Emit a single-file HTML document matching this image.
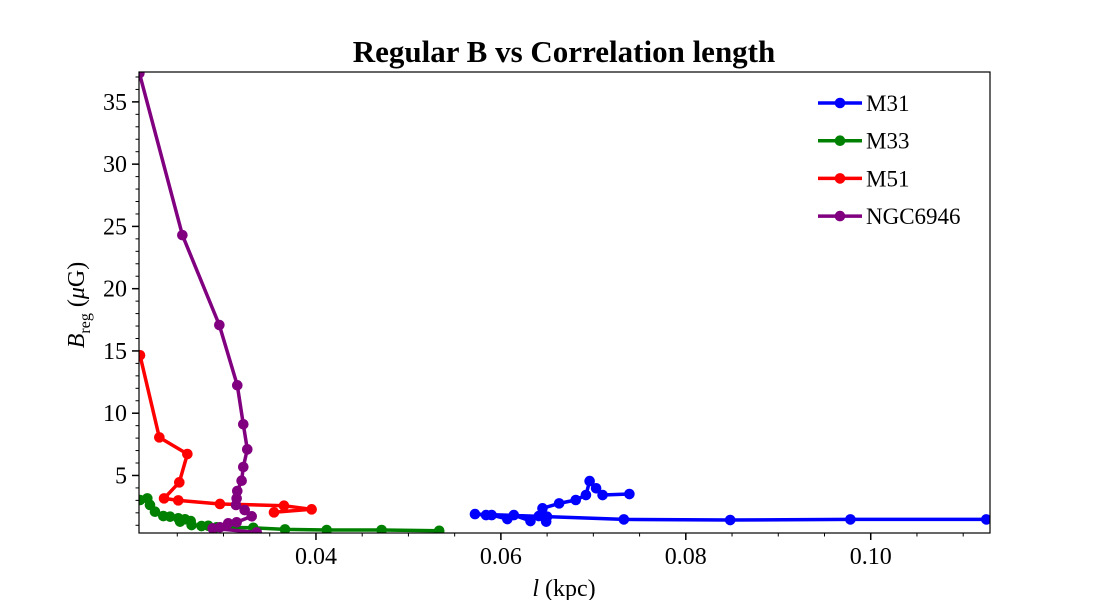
<!DOCTYPE html>
<html><head><meta charset="utf-8">
<style>
html,body{margin:0;padding:0;background:#fff;}
svg{display:block;font-family:"Liberation Serif",serif;}
</style></head>
<body>
<svg id="chart" width="1100" height="600">
<text x="564" y="62" text-anchor="middle" font-size="31" font-weight="bold">Regular B vs Correlation length</text>
<g id="plot"></g>
<text x="564" y="596" text-anchor="middle" font-size="24"><tspan font-style="italic">l</tspan> (kpc)</text>
<text transform="translate(84,305) rotate(-90)" text-anchor="middle" font-size="24"><tspan font-style="italic">B</tspan><tspan font-size="16" dy="6">reg</tspan><tspan dy="-6"> (</tspan><tspan font-style="italic">μ</tspan>G)</text>
<g id="legend"></g>
</svg>
<script>
const seriesNames = ["M31","M33","M51","NGC6946"];
const seriesColors = ["#0000ff","#008000","#ff0000","#800080"];
const m31L = [0.0739,0.0710,0.0703,0.0696,0.0692,0.0681,0.0663,0.0645,0.0650,0.0649,0.0641,0.0632,0.0614,0.0607,0.0590,0.0584,0.0572,0.0733,0.0848,0.0978,0.1125];
const m31B = [3.51,3.43,3.97,4.55,3.43,3.03,2.76,2.36,1.69,1.29,1.74,1.34,1.82,1.50,1.82,1.82,1.90,1.47,1.42,1.47,1.47];
const m33L = [0.02097,0.02176,0.02205,0.02259,0.02349,0.02422,0.02511,0.02530,0.02584,0.02645,0.02655,0.02762,0.02835,0.02926,0.03322,0.03665,0.04116,0.04710,0.05333];
const m33B = [3.03,3.16,2.63,2.09,1.74,1.69,1.56,1.29,1.48,1.34,1.02,0.94,0.96,0.84,0.80,0.67,0.62,0.62,0.56];
const m51L = [0.02097,0.02306,0.02609,0.02522,0.02357,0.02511,0.02962,0.03654,0.03953,0.03546];
const m51B = [14.65,8.06,6.72,4.45,3.16,3.0,2.71,2.57,2.28,2.04];
const ngcL = [0.0209,0.02555,0.02955,0.03149,0.03214,0.03257,0.03214,0.03196,0.03149,0.03142,0.03135,0.03229,0.03305,0.03142,0.03051,0.02962,0.02883,0.03359];
const ngcB = [37.3,24.3,17.08,12.24,9.11,7.1,5.68,4.58,3.75,3.16,2.63,2.22,1.72,1.24,1.16,0.84,0.75,0.43];
const xTicks = [0.04,0.06,0.08,0.10];
const xTickLabels = ["0.04","0.06","0.08","0.10"];
const yTicks = [5,10,15,20,25,30,35];
const yTickLabels = ["5","10","15","20","25","30","35"];

const NS="http://www.w3.org/2000/svg";
const L=139,R=990,T=72,B=533;
const xMin=0.02086,xMax=0.1129,yMin=0.38,yMax=37.4;
const X=v=>L+(v-xMin)/(xMax-xMin)*(R-L);
const Y=v=>B-(v-yMin)/(yMax-yMin)*(B-T);
function mk(tag,attrs,parent){const e=document.createElementNS(NS,tag);for(const k in attrs)e.setAttribute(k,attrs[k]);parent.appendChild(e);return e;}
const plot=document.getElementById('plot');
const svg=document.getElementById('chart');
const defs=mk('defs',{},svg);
const cp=mk('clipPath',{id:'clip'},defs);
mk('rect',{x:L,y:T,width:R-L,height:B-T},cp);
const data=[[m31L,m31B],[m33L,m33B],[m51L,m51B],[ngcL,ngcB]];
data.forEach((d,i)=>{
  const g=mk('g',{'clip-path':'url(#clip)'},plot);
  
  
  const pts=d[0].map((v,j)=>X(v).toFixed(1)+','+Y(d[1][j]).toFixed(1)).join(' ');
  const pl=mk('polyline',{points:pts,fill:'none',stroke:seriesColors[i],'stroke-width':3.5,'stroke-linejoin':'round'},g);
  
  
  d[0].forEach((v,j)=>{
    const c=mk('circle',{cx:X(v),cy:Y(d[1][j]),r:5.3,fill:seriesColors[i]},g);
    
    
  });
});
const fr=mk('rect',{x:L,y:T,width:R-L,height:B-T,fill:'none',stroke:'#000','stroke-width':1.2},plot);


for(let v=0.025;v<xMax;v+=0.005){const px=X(v);if(px<L||px>R)continue;mk('line',{x1:px,x2:px,y1:B,y2:B+3.5,stroke:'#000','stroke-width':1},plot);}
xTicks.forEach((v,i)=>{
  mk('line',{x1:X(v),x2:X(v),y1:B,y2:B+7,stroke:'#000','stroke-width':1.5},plot);
  const t=mk('text',{x:X(v),y:B+31,'text-anchor':'middle','font-size':24},plot);
  t.textContent=xTickLabels[i];
  
  
});
for(let v=1;v<yMax;v+=1){mk('line',{x1:L-3.5,x2:L,y1:Y(v),y2:Y(v),stroke:'#000','stroke-width':1},plot);}
yTicks.forEach((v,i)=>{
  mk('line',{x1:L-7,x2:L,y1:Y(v),y2:Y(v),stroke:'#000','stroke-width':1.5},plot);
  const t=mk('text',{x:L-12,y:Y(v)+8,'text-anchor':'end','font-size':24},plot);
  t.textContent=yTickLabels[i];
  
  
});
const lg=document.getElementById('legend');
seriesNames.forEach((n,i)=>{
  const y=103+i*37.7;
  const g=mk('g',{},lg);
  
  
  mk('line',{x1:818,x2:862,y1:y,y2:y,stroke:seriesColors[i],'stroke-width':3.5},g);
  mk('circle',{cx:840,cy:y,r:5.3,fill:seriesColors[i]},g);
  const t=mk('text',{x:866,y:y+8,'font-size':23},g);
  t.textContent=n;
});
</script>
</body></html>
